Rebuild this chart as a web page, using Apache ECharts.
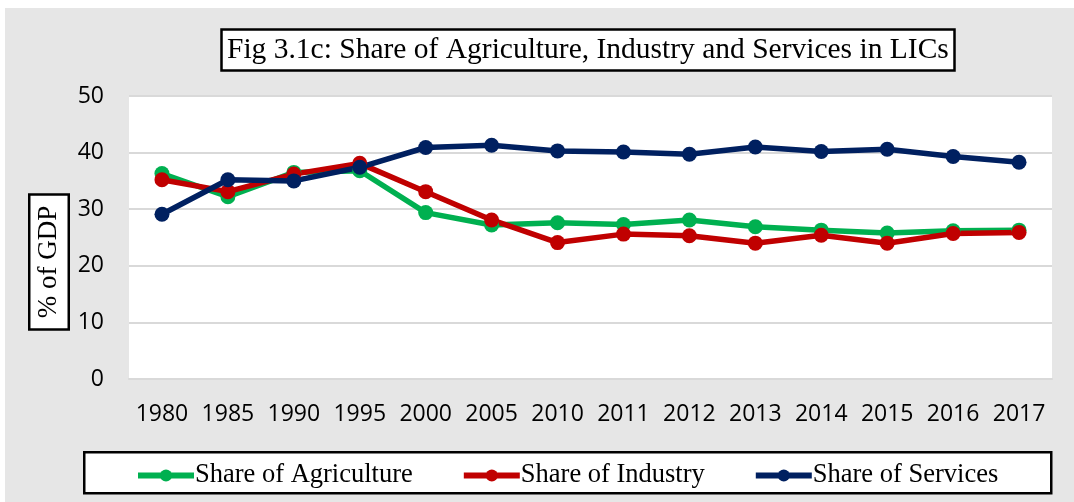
<!DOCTYPE html>
<html>
<head>
<meta charset="utf-8">
<script src="https://cdn.jsdelivr.net/npm/echarts@6/dist/echarts.min.js"></script>
<style>
html,body{margin:0;padding:0;background:#fff;}
#bg{position:absolute;left:5px;top:8px;right:0;bottom:0;background:#e6e6e6;}
#chart{position:absolute;left:0;top:0;width:1074px;height:502px;}
</style>
</head>
<body>
<div id="bg"></div>
<div id="chart"></div>
<script>
const years = ['1980','1985','1990','1995','2000','2005','2010','2011','2012','2013','2014','2015','2016','2017'];
const agriculture = [36.3, 32.2, 36.5, 36.8, 29.4, 27.2, 27.6, 27.3, 28.1, 26.9, 26.3, 25.8, 26.2, 26.3];
const industry    = [35.2, 33.1, 36.2, 38.1, 33.1, 28.1, 24.1, 25.6, 25.3, 24.0, 25.4, 24.0, 25.7, 25.9];
const services    = [29.1, 35.2, 35.0, 37.4, 40.9, 41.3, 40.3, 40.1, 39.7, 41.0, 40.2, 40.6, 39.3, 38.3];
const yTicks = [0, 10, 20, 30, 40, 50];

const serif = '"Liberation Serif","Times New Roman",serif';
const sans = '"Open Sans",sans-serif';

const chart = echarts.init(document.getElementById('chart'), null, {renderer:'canvas'});
function mk(name, data, color){
  return {
    name, type:'line', data,
    symbol:'circle', symbolSize:15,
    lineStyle:{width:5.5, color},
    itemStyle:{color},
    emphasis:{disabled:true},
    animation:false
  };
}
chart.setOption({
  animation:false,
  title:{
    text:'Fig 3.1c: Share of Agriculture, Industry and Services in LICs',
    left:221, top:29,
    padding:[6,6,6,6],
    backgroundColor:'#fff',
    borderColor:'#000', borderWidth:2.5,
    textStyle:{fontFamily:serif, fontSize:29.5, fontWeight:'normal', color:'#000', lineHeight:30}
  },
  legend:{
    left:135, top:462, padding:0,
    itemWidth:56, itemHeight:15, itemGap:48,
    lineStyle:{width:6},
    textStyle:{fontFamily:serif, fontSize:26.5, color:'#000', padding:[0,0,0,-4]},
    data:['Share of Agriculture','Share of Industry','Share of Services']
  },
  grid:{left:129, right:22, top:96, bottom:123, show:true, backgroundColor:'#fff', borderWidth:0},
  xAxis:{
    type:'category', data:years, boundaryGap:true,
    axisLine:{show:true, lineStyle:{color:'#d9d9d9', width:2}},
    axisTick:{show:false},
    axisLabel:{fontFamily:sans, fontSize:23, color:'#000', margin:24, interval:0}
  },
  yAxis:{
    type:'value', min:yTicks[0], max:yTicks[yTicks.length-1], interval:10,
    axisLine:{show:false}, axisTick:{show:false},
    splitLine:{lineStyle:{color:'#d9d9d9', width:2}},
    axisLabel:{fontFamily:sans, fontSize:23, color:'#000', margin:25}
  },
  graphic:[
    {type:'rect', left:83, top:451, shape:{width:967, height:41},
     style:{fill:'#fff', stroke:'#000', lineWidth:2.5}, z:-1, silent:true},
    {type:'text', x:49, y:262, rotation:Math.PI/2, silent:true,
     style:{text:'% of GDP', fontFamily:serif, fontSize:27, fill:'#000',
            align:'center', verticalAlign:'middle',
            backgroundColor:'#fff', borderColor:'#000', borderWidth:2.5, padding:[5,10,5,10]}}
  ],
  series:[
    mk('Share of Agriculture', agriculture, '#00B050'),
    mk('Share of Industry', industry, '#C00000'),
    mk('Share of Services', services, '#002060')
  ]
});
</script>
</body>
</html>
